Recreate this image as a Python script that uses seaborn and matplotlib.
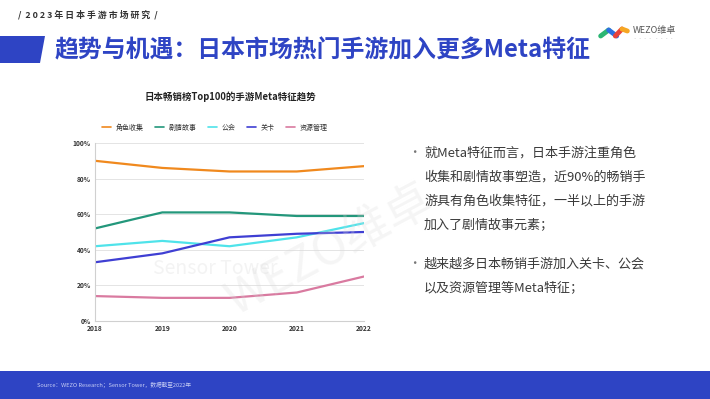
import numpy as np
import pandas as pd
import seaborn as sns
import matplotlib.pyplot as plt
from matplotlib.patches import Polygon, Rectangle

# Data (share of Top100 grossing games, %)
years = [2018, 2019, 2020, 2021, 2022]
series_names = ["角色收集", "剧情故事", "公会", "关卡", "资源管理"]
role_collect = [90, 86, 84, 84, 87]
story = [52, 61, 61, 59, 59]
guild = [42, 45, 42, 47, 55]
levels = [33, 38, 47, 49, 50]
resource = [14, 13, 13, 16, 25]
y_ticks = [0, 20, 40, 60, 80, 100]
colors = ["#f0891e", "#23977b", "#4fe3ea", "#3f3fd3", "#d97aa0"]

BLUE = "#2e44c4"

df = pd.DataFrame({"year": years * 5,
                   "value": role_collect + story + guild + levels + resource,
                   "series": sum([[s] * 5 for s in series_names], [])})

sns.set_theme(style="white")
plt.rcParams['font.family'] = ['Noto Sans CJK SC', 'DejaVu Sans']

W, H = 710, 399
fig = plt.figure(figsize=(7.1, 3.99), dpi=100)
fig.patch.set_facecolor("white")

def fx(px):
    return px / W

def fy(py):
    return 1 - py / H

# header
fig.text(fx(18), fy(15), "/  2 0 2 3 年 日 本 手 游 市 场 研 究  /", fontsize=6.4,
         fontweight="bold", color="#333333", va="center", ha="left")
fig.patches.append(Polygon([(0, fy(36)), (fx(45), fy(36)), (fx(40), fy(63)), (0, fy(63))],
                           closed=True, transform=fig.transFigure, facecolor=BLUE, edgecolor="none"))
fig.text(fx(55), fy(50), "趋势与机遇：日本市场热门手游加入更多Meta特征", fontsize=17.2,
         fontweight="bold", color=BLUE, va="center", ha="left")

# logo
lax = fig.add_axes([fx(598), fy(42), fx(32), fy(22) - fy(42)])
t = np.linspace(0, 1, 20)
lax.plot(t * 0.3, 0.3 + 0.3 * t, color="#2bb673", lw=3.5, solid_capstyle="round")
lax.plot(0.3 + t * 0.3, 0.6 - 0.3 * t, color="#2e6fe0", lw=3.5, solid_capstyle="round")
lax.plot(0.55 + t * 0.25, 0.3 + 0.35 * t, color="#e8423b", lw=3.5, solid_capstyle="round")
lax.plot(0.8 + t * 0.2, 0.65 - 0.1 * t, color="#f6a623", lw=3.5, solid_capstyle="round")
lax.set_xlim(-0.1, 1.1)
lax.set_ylim(0, 1)
lax.axis("off")
fig.text(fx(633), fy(31), "WEZO维卓", fontsize=6.5, color="#555555", va="center", ha="left")
fig.text(fx(633), fy(39), "· · · ·   · · · ·", fontsize=3, color="#aaaaaa", va="center", ha="left")

# chart
ax = fig.add_axes([fx(95), fy(321), fx(364) - fx(95), fy(143) - fy(321)])
sns.lineplot(data=df, x="year", y="value", hue="series", hue_order=series_names,
             palette=colors, linewidth=1.6, ax=ax)
ax.set_xlim(years[0], years[-1])
ax.set_ylim(0, 100)
ax.set_xticks(years)
ax.set_xticklabels([str(y) for y in years])
ax.set_yticks(y_ticks)
ax.set_yticklabels([f"{v}%" for v in y_ticks])
ax.tick_params(axis="both", labelsize=4.8, colors="#333333", length=0, pad=3)
for lab in ax.get_xticklabels() + ax.get_yticklabels():
    lab.set_fontweight("bold")
ax.grid(axis="y", color="#e4e4e4", linewidth=0.7)
ax.set_axisbelow(True)
for s in ["top", "right"]:
    ax.spines[s].set_visible(False)
ax.spines["left"].set_color("#d0d0d0")
ax.spines["bottom"].set_color("#d0d0d0")
ax.spines["left"].set_linewidth(0.8)
ax.spines["bottom"].set_linewidth(0.8)
ax.set_xlabel("")
ax.set_ylabel("")
ax.legend(loc="center", bbox_to_anchor=(0.445, 1.085), ncol=5, frameon=False,
          fontsize=5, handlelength=1.3, columnspacing=1.7, handletextpad=0.6,
          labelcolor="#333333")
for line in ax.get_legend().get_lines():
    line.set_linewidth(1.2)

fig.text(fx(230), fy(97), "日本畅销榜Top100的手游Meta特征趋势", fontsize=6.8,
         fontweight="bold", color="#222222", ha="center", va="center")

# watermarks
fig.text(fx(215), fy(268), "Sensor Tower", fontsize=14, color="#d8d8d8", alpha=0.3,
         ha="center", va="center")
fig.text(fx(330), fy(250), "WEZO维卓", fontsize=34, color="#d8d8d8", alpha=0.25,
         ha="center", va="center", rotation=28)

# right-hand notes
text_color = "#3a3a3a"
lines1 = ["就Meta特征而言，日本手游注重角色", "收集和剧情故事塑造，近90%的畅销手",
          "游具有角色收集特征，一半以上的手游", "加入了剧情故事元素；"]
lines2 = ["越来越多日本畅销手游加入关卡、公会", "以及资源管理等Meta特征；"]
fig.text(fx(408), fy(153), "•", fontsize=9, color="#777777", va="center")
for i, s in enumerate(lines1):
    fig.text(fx(424), fy(153 + 24 * i), s, fontsize=9.4, color=text_color, va="center")
fig.text(fx(408), fy(264), "•", fontsize=9, color="#777777", va="center")
for i, s in enumerate(lines2):
    fig.text(fx(424), fy(264 + 24 * i), s, fontsize=9.4, color=text_color, va="center")

# footer
fig.patches.append(Rectangle((0, 0), 1, fy(371), transform=fig.transFigure,
                             facecolor=BLUE, edgecolor="none"))
fig.text(fx(37), fy(385), "Source：WEZO Research；Sensor Tower，数据截至2022年", fontsize=4.1,
         style="italic", color="#c8cff5", va="center", ha="left")

fig.savefig("out.png", dpi=100, facecolor="white")
